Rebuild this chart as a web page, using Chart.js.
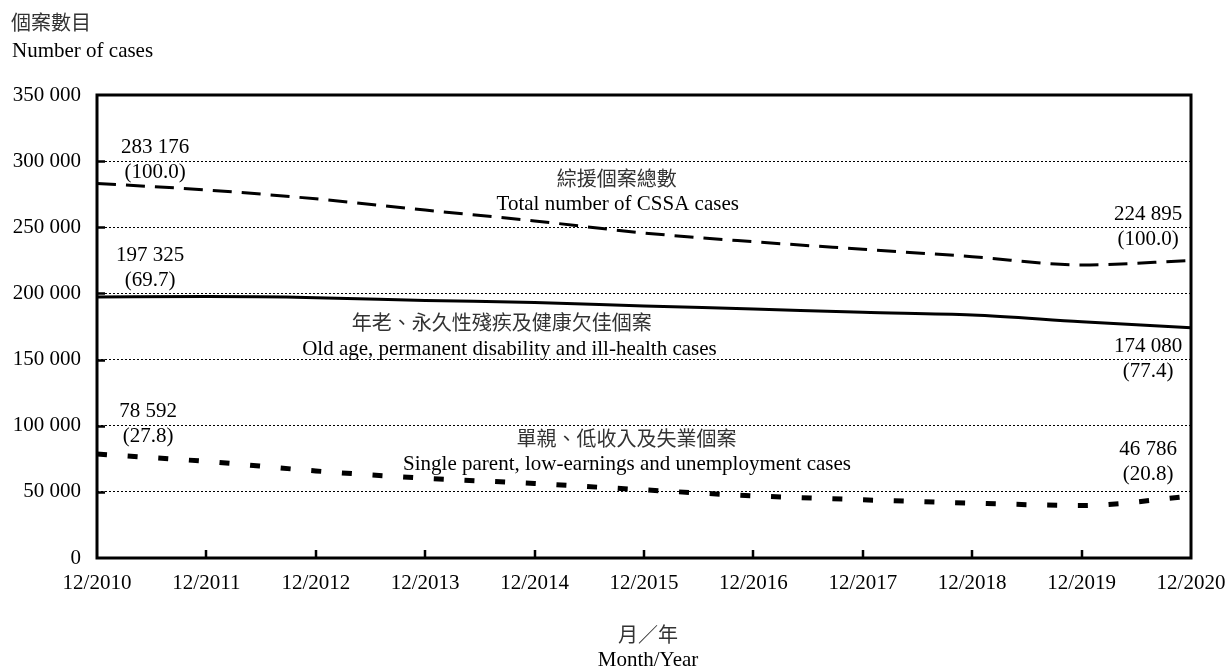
<!DOCTYPE html>
<html lang="zh-Hant">
<head>
<meta charset="utf-8">
<title>綜援個案數目</title>
<script src="https://cdn.jsdelivr.net/npm/chart.js@4.4.1/dist/chart.umd.min.js"></script>
<style>
  html, body { margin: 0; padding: 0; background: #fff; }
  #wrap { position: relative; width: 1231px; height: 668px; overflow: hidden; }
  #wrap canvas { position: absolute; left: 0; top: 0; }
  .t { position: absolute; white-space: nowrap; color: #000; }
  .zh { font-family: 'Noto Sans CJK TC', 'Noto Sans CJK SC', sans-serif; font-size: 20px; line-height: 20px; color: #333; }
  .en { font-family: 'Liberation Serif', 'Times New Roman', serif; font-size: 21px; line-height: 21px; }
  .mid { transform: translateX(-50%); }
</style>
</head>
<body>
<div id="wrap">
  <canvas id="c" width="1231" height="668"></canvas>
  <div class="t zh" style="left:11px;top:12px">個案數目</div>
  <div class="t en" style="left:12px;top:40px">Number of cases</div>
  <div class="t zh mid" style="left:648px;top:624px">月／年</div>
  <div class="t en mid" style="left:648px;top:649px">Month/Year</div>
</div>
<script>
// Position at the end of each December
const years = ['12/2010', '12/2011', '12/2012', '12/2013', '12/2014', '12/2015',
               '12/2016', '12/2017', '12/2018', '12/2019', '12/2020'];

// CSSA case counts
const totalCases        = [283176, 278200, 271500, 263000, 254800, 245700, 239100, 233400, 227800, 221500, 224895];
const oldAgeCases       = [197325, 197600, 196800, 194700, 193100, 190500, 188200, 185700, 183700, 178600, 174080];
const singleParentCases = [78592, 73000, 65800, 60300, 56300, 51500, 47000, 44000, 41500, 39700, 46786];

// Value axis ticks
const yTicks = [0, 50000, 100000, 150000, 200000, 250000, 300000, 350000];

// Series captions (Chinese / English)
const namesZh = ['綜援個案總數', '年老、永久性殘疾及健康欠佳個案', '單親、低收入及失業個案'];
const namesEn = ['Total number of CSSA cases',
                 'Old age, permanent disability and ill-health cases',
                 'Single parent, low-earnings and unemployment cases'];

const SERIF = "'Liberation Serif', 'Times New Roman', serif";
const CJK = "'Noto Sans CJK TC', 'Noto Sans CJK SC', sans-serif";

const fmt = n => String(n).replace(/\B(?=(\d{3})+(?!\d))/g, ' ');
const share = (v, i) => '(' + (v / totalCases[i] * 100).toFixed(1) + ')';

// Caption anchors in axis units: x = category index, y = value
const captionAt = [
  { zh: { x: 4.75, y: 287300 }, en: { x: 4.76, y: 267000 } },
  { zh: { x: 3.70, y: 178400 }, en: { x: 3.77, y: 158000 } },
  { zh: { x: 4.84, y: 90700 },  en: { x: 4.845, y: 71000 } }
];

// End-point value labels: horizontal shift of the label centre and
// baseline shift of the first line, in pixels, from the data point
const endLabelOffsets = [
  { first: { dx: 58, dy: -30 }, last: { dx: -43, dy: -40 } },
  { first: { dx: 53, dy: -36 }, last: { dx: -43, dy: 24 } },
  { first: { dx: 51, dy: -37 }, last: { dx: -43, dy: -41 } }
];
const LINE_GAP = 25;

// Inward tick marks and the heavy box around the plot
const frameTicks = {
  id: 'frameTicks',
  afterDatasetsDraw(chart) {
    const { ctx, chartArea: a, scales: { x, y } } = chart;
    ctx.save();
    ctx.strokeStyle = '#000';
    ctx.lineWidth = 2.5;
    ctx.beginPath();
    yTicks.forEach(v => {
      if (v > y.min && v < y.max) {
        const py = Math.round(y.getPixelForValue(v)) + 0.5;
        ctx.moveTo(a.left, py);
        ctx.lineTo(a.left + 8, py);
      }
    });
    years.forEach((_, i) => {
      if (i > 0 && i < years.length - 1) {
        const px = Math.round(x.getPixelForValue(i));
        ctx.moveTo(px, a.bottom);
        ctx.lineTo(px, a.bottom - 8);
      }
    });
    ctx.stroke();
    ctx.lineWidth = 3;
    ctx.strokeRect(a.left, a.top, a.right - a.left, a.bottom - a.top);
    ctx.restore();
  }
};

// Series captions and end-point value labels
const annotations = {
  id: 'annotations',
  afterDraw(chart) {
    const { ctx, scales: { x, y } } = chart;
    ctx.save();
    ctx.textAlign = 'center';

    ctx.textBaseline = 'middle';
    captionAt.forEach((c, i) => {
      ctx.fillStyle = '#333';
      ctx.font = '20px ' + CJK;
      ctx.fillText(namesZh[i], x.getPixelForValue(c.zh.x), y.getPixelForValue(c.zh.y));
      ctx.fillStyle = '#000';
      ctx.font = '21px ' + SERIF;
      ctx.fillText(namesEn[i], x.getPixelForValue(c.en.x), y.getPixelForValue(c.en.y));
    });

    ctx.textBaseline = 'alphabetic';
    ctx.fillStyle = '#000';
    ctx.font = '21px ' + SERIF;
    chart.data.datasets.forEach((ds, i) => {
      const meta = chart.getDatasetMeta(i);
      const last = ds.data.length - 1;
      [[0, endLabelOffsets[i].first], [last, endLabelOffsets[i].last]].forEach(([k, off]) => {
        const pt = meta.data[k];
        const cx = pt.x + off.dx;
        const by = pt.y + off.dy;
        ctx.fillText(fmt(ds.data[k]), cx, by);
        ctx.fillText(share(ds.data[k], k), cx, by + LINE_GAP);
      });
    });
    ctx.restore();
  }
};

const lineBase = {
  borderColor: '#000',
  backgroundColor: '#000',
  pointRadius: 0,
  pointHoverRadius: 0,
  fill: false,
  cubicInterpolationMode: 'monotone',
  borderCapStyle: 'butt'
};

new Chart(document.getElementById('c'), {
  type: 'line',
  data: {
    labels: years,
    datasets: [
      Object.assign({}, lineBase, { label: namesEn[0], data: totalCases, borderWidth: 3, borderDash: [19, 10] }),
      Object.assign({}, lineBase, { label: namesEn[1], data: oldAgeCases, borderWidth: 3 }),
      Object.assign({}, lineBase, { label: namesEn[2], data: singleParentCases, borderWidth: 5, borderDash: [10, 20.7] })
    ]
  },
  options: {
    responsive: false,
    animation: false,
    events: [],
    layout: { padding: { left: 0, top: 95, right: 40, bottom: 0 } },
    plugins: {
      legend: { display: false },
      tooltip: { enabled: false },
      title: { display: false }
    },
    scales: {
      x: {
        type: 'category',
        offset: false,
        grid: { display: false, drawTicks: false },
        border: { display: false },
        ticks: {
          color: '#000',
          font: { family: SERIF, size: 21 },
          padding: 13,
          maxRotation: 0,
          minRotation: 0,
          autoSkip: false
        },
        afterFit: s => { s.height = 110; s.paddingLeft = 0; s.paddingRight = 0; }
      },
      y: {
        min: 0,
        max: 350000,
        afterBuildTicks: s => { s.ticks = yTicks.map(v => ({ value: v })); },
        grid: {
          drawTicks: false,
          lineWidth: 1,
          color: c => (c.tick && (c.tick.value === 0 || c.tick.value === 350000)) ? 'rgba(0,0,0,0)' : '#000'
        },
        border: { display: false, dash: [2, 2] },
        ticks: {
          color: '#000',
          font: { family: SERIF, size: 21 },
          padding: 16,
          callback: v => fmt(v)
        },
        afterFit: s => { s.width = 97; }
      }
    }
  },
  plugins: [frameTicks, annotations]
});
</script>
</body>
</html>
